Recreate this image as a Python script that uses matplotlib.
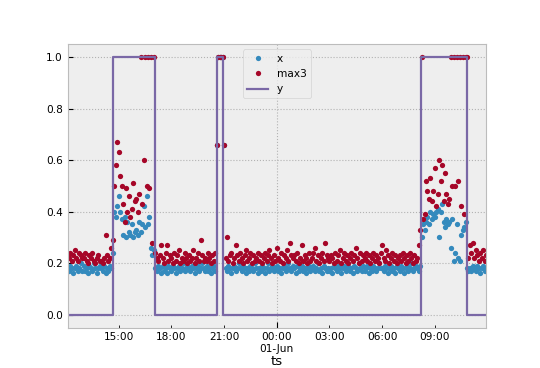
import pandas as pd
import numpy as np
import matplotlib
matplotlib.use("Agg")
import matplotlib.pyplot as plt
import matplotlib.dates as mdates
from matplotlib.ticker import FuncFormatter

# timestamps every 5 min, 31-May 12:05 -> 01-Jun 11:55
ts = pd.date_range("2023-05-31 12:05", "2023-06-01 11:55", freq="5min")

# x values, one row per hour (first row starts 12:05)
x_vals = [
    0.18, 0.17, 0.19, 0.18, 0.16, 0.18, 0.19, 0.17, 0.18, 0.20, 0.17,          # 12
    0.19, 0.17, 0.18, 0.16, 0.19, 0.18, 0.17, 0.20, 0.18, 0.16, 0.18, 0.19,    # 13
    0.18, 0.17, 0.19, 0.16, 0.18, 0.17, 0.19, 0.18, 0.24, 0.40, 0.38, 0.42,    # 14
    0.46, 0.40, 0.37, 0.31, 0.38, 0.30, 0.36, 0.32, 0.31, 0.35, 0.30, 0.32,    # 15
    0.33, 0.31, 0.36, 0.32, 0.35, 0.42, 0.34, 0.46, 0.35, 0.38, 0.26, 0.23,    # 16
    0.25, 0.18, 0.17, 0.19, 0.18, 0.16, 0.19, 0.17, 0.18, 0.16, 0.19, 0.18,    # 17
    0.17, 0.19, 0.18, 0.16, 0.18, 0.19, 0.17, 0.18, 0.20, 0.17, 0.18, 0.19,    # 18
    0.18, 0.17, 0.19, 0.18, 0.16, 0.18, 0.19, 0.17, 0.18, 0.20, 0.18, 0.17,    # 19
    0.19, 0.17, 0.18, 0.16, 0.18, 0.19, 0.17, 0.66, 1.00, 1.00, 1.00, 1.00,    # 20
    0.66, 0.18, 0.17, 0.19, 0.18, 0.16, 0.18, 0.19, 0.17, 0.18, 0.20, 0.18,    # 21
    0.17, 0.19, 0.18, 0.16, 0.18, 0.17, 0.19, 0.18, 0.17, 0.20, 0.18, 0.16,    # 22
    0.18, 0.17, 0.19, 0.18, 0.16, 0.18, 0.20, 0.17, 0.18, 0.19, 0.17, 0.18,    # 23
    0.19, 0.17, 0.18, 0.16, 0.18, 0.19, 0.17, 0.18, 0.20, 0.18, 0.17, 0.19,    # 00
    0.18, 0.16, 0.19, 0.17, 0.18, 0.19, 0.17, 0.18, 0.16, 0.18, 0.19, 0.17,    # 01
    0.18, 0.19, 0.17, 0.18, 0.20, 0.17, 0.18, 0.16, 0.19, 0.18, 0.17, 0.18,    # 02
    0.17, 0.18, 0.16, 0.19, 0.18, 0.17, 0.19, 0.18, 0.16, 0.18, 0.19, 0.17,    # 03
    0.18, 0.19, 0.17, 0.18, 0.16, 0.19, 0.18, 0.17, 0.20, 0.18, 0.17, 0.19,    # 04
    0.17, 0.18, 0.19, 0.16, 0.18, 0.17, 0.19, 0.18, 0.17, 0.18, 0.20, 0.18,    # 05
    0.18, 0.17, 0.19, 0.18, 0.16, 0.18, 0.19, 0.17, 0.18, 0.16, 0.19, 0.18,    # 06
    0.17, 0.19, 0.18, 0.16, 0.18, 0.19, 0.17, 0.18, 0.20, 0.17, 0.18, 0.19,    # 07
    0.18, 0.17, 0.19, 0.30, 0.35, 0.33, 0.36, 0.38, 0.35, 0.40, 0.37, 0.39,    # 08
    0.38, 0.40, 0.41, 0.30, 0.40, 0.43, 0.36, 0.34, 0.37, 0.35, 0.36, 0.26,    # 09
    0.37, 0.21, 0.24, 0.35, 0.22, 0.21, 0.31, 0.33, 0.34, 0.36, 0.18, 0.17,    # 10
    0.18, 0.17, 0.19, 0.18, 0.17, 0.19, 0.18, 0.16, 0.18, 0.19, 0.17, 0.18,    # 11
]

max3_vals = [
    0.23, 0.22, 0.24, 0.21, 0.23, 0.25, 0.22, 0.21, 0.24, 0.23, 0.22,          # 12
    0.22, 0.24, 0.21, 0.20, 0.23, 0.22, 0.24, 0.21, 0.20, 0.22, 0.23, 0.21,    # 13
    0.21, 0.20, 0.22, 0.31, 0.23, 0.21, 0.22, 0.26, 0.29, 0.50, 0.58, 0.67,    # 14
    0.63, 0.54, 0.50, 0.43, 0.36, 0.49, 0.40, 0.46, 0.38, 0.41, 0.51, 0.44,    # 15
    0.45, 0.40, 0.47, 1.00, 0.43, 0.60, 1.00, 0.50, 1.00, 0.49, 1.00, 0.28,    # 16
    1.00, 0.24, 0.22, 0.21, 0.23, 0.27, 0.22, 0.20, 0.24, 0.27, 0.21, 0.23,    # 17
    0.22, 0.20, 0.24, 0.21, 0.23, 0.25, 0.20, 0.22, 0.21, 0.24, 0.22, 0.20,    # 18
    0.23, 0.21, 0.22, 0.25, 0.20, 0.22, 0.24, 0.21, 0.29, 0.23, 0.21, 0.22,    # 19
    0.21, 0.24, 0.22, 0.20, 0.23, 0.21, 0.24, 0.66, 1.00, 1.00, 1.00, 1.00,    # 20
    0.66, 0.22, 0.30, 0.21, 0.23, 0.24, 0.20, 0.22, 0.27, 0.23, 0.21, 0.24,    # 21
    0.22, 0.20, 0.23, 0.25, 0.21, 0.22, 0.24, 0.20, 0.23, 0.21, 0.22, 0.24,    # 22
    0.21, 0.23, 0.20, 0.22, 0.24, 0.21, 0.23, 0.25, 0.22, 0.20, 0.23, 0.21,    # 23
    0.26, 0.22, 0.21, 0.24, 0.20, 0.23, 0.22, 0.25, 0.21, 0.28, 0.23, 0.22,    # 00
    0.23, 0.21, 0.24, 0.20, 0.22, 0.27, 0.21, 0.23, 0.22, 0.20, 0.24, 0.21,    # 01
    0.22, 0.24, 0.26, 0.21, 0.23, 0.20, 0.22, 0.24, 0.21, 0.28, 0.23, 0.22,    # 02
    0.21, 0.23, 0.22, 0.20, 0.24, 0.21, 0.23, 0.25, 0.20, 0.22, 0.24, 0.21,    # 03
    0.23, 0.20, 0.22, 0.24, 0.21, 0.23, 0.26, 0.22, 0.20, 0.24, 0.21, 0.23,    # 04
    0.22, 0.24, 0.21, 0.23, 0.20, 0.22, 0.24, 0.21, 0.23, 0.22, 0.20, 0.24,    # 05
    0.27, 0.22, 0.21, 0.25, 0.23, 0.20, 0.22, 0.24, 0.21, 0.23, 0.20, 0.22,    # 06
    0.23, 0.21, 0.24, 0.22, 0.20, 0.23, 0.21, 0.24, 0.22, 0.20, 0.23, 0.21,    # 07
    0.22, 0.27, 0.33, 1.00, 0.37, 0.39, 0.52, 0.48, 0.45, 0.53, 0.44, 0.48,    # 08
    0.57, 0.42, 0.47, 0.60, 0.52, 0.58, 0.44, 0.55, 0.47, 0.43, 0.45, 1.00,    # 09
    0.50, 1.00, 0.50, 1.00, 0.52, 1.00, 0.42, 1.00, 0.39, 1.00, 1.00, 0.22,    # 10
    0.27, 0.24, 0.28, 0.22, 0.25, 0.23, 0.21, 0.24, 0.22, 0.25, 0.21, 0.23,    # 11
]

# y label: change points (step)
y_times = pd.to_datetime(["2023-05-31 12:05", "2023-05-31 14:40", "2023-05-31 17:05",
                          "2023-05-31 20:37", "2023-05-31 20:58", "2023-06-01 08:14",
                          "2023-06-01 10:51", "2023-06-01 11:55"])
y_vals = [0, 1, 0, 1, 0, 1, 0, 0]

plt.style.use("bmh")
plt.rcParams["font.family"] = ["DejaVu Sans"]

fig, ax = plt.subplots(figsize=(5.4, 3.68), dpi=100)

t = ts.to_pydatetime()
ax.plot(t, x_vals, linestyle="none", marker="o", ms=3.8, mew=0, color="#348ABD", label="x")
ax.plot(t, max3_vals, linestyle="none", marker="o", ms=3.8, mew=0, color="#A60628", label="max3")
ax.plot(y_times.to_pydatetime(), y_vals, drawstyle="steps-post", lw=1.6, color="#7A68A6", label="y")

ax.set_xlim(t[0], t[-1])
ax.set_ylim(-0.05, 1.05)

ax.xaxis.set_major_locator(mdates.HourLocator(byhour=[0]))
ax.xaxis.set_major_formatter(FuncFormatter(lambda v, p: mdates.num2date(v).strftime("%H:%M\n%d-%b")))
ax.xaxis.set_minor_locator(mdates.HourLocator(byhour=[3, 6, 9, 12, 15, 18, 21]))
ax.xaxis.set_minor_formatter(mdates.DateFormatter("%H:%M"))

# grid: horizontal lines, vertical only at the day boundary
ax.grid(False, axis="x", which="both")
ax.yaxis.grid(True, linestyle=":", linewidth=0.8)
for loc in ax.xaxis.get_majorticklocs():
    ax.axvline(loc, color="#b2b2b2", linestyle=":", linewidth=0.8, zorder=0.5)

ax.tick_params(axis="both", which="both", labelsize=7.6)
ax.tick_params(axis="x", which="major", length=4)
ax.tick_params(axis="x", which="minor", length=2)
ax.set_xlabel("ts", fontsize=9.5, labelpad=1)

ax.legend(loc="upper center", fontsize=7.6)

fig.savefig("out.png", dpi=100)
